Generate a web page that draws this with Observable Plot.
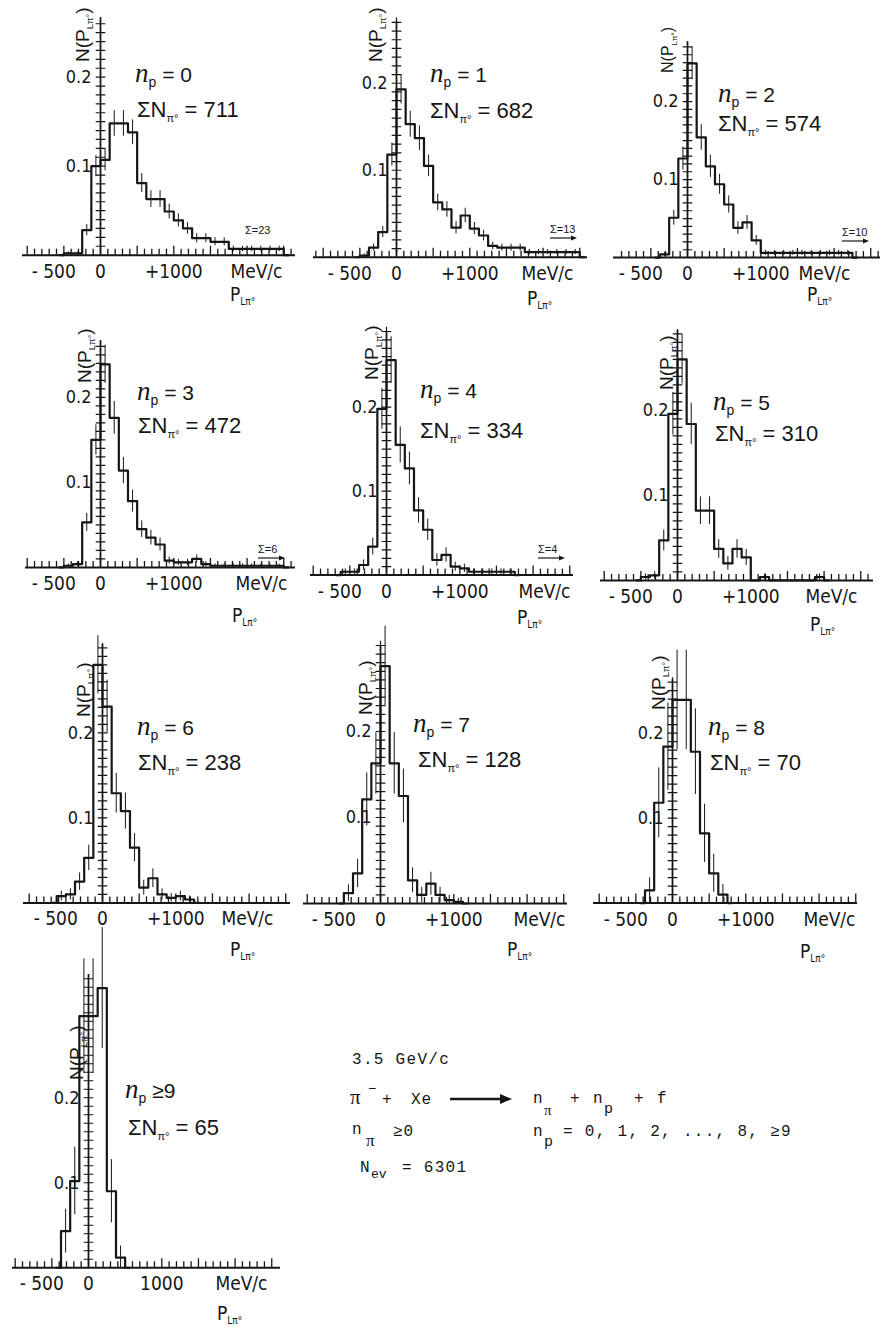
<!DOCTYPE html>
<html><head><meta charset="utf-8">
<script src="https://cdn.jsdelivr.net/npm/d3@7"></script>
<script src="https://cdn.jsdelivr.net/npm/@observablehq/plot@0.6"></script>
<style>
body{margin:0;background:#fff;}
#page{position:relative;width:881px;height:1335px;overflow:hidden;background:#fff;}
</style></head><body><div id="page"></div>
<script>
// ---------- data ----------
const npLabels = ["0","1","2","3","4","5","6","7","8","≥9"];
const sumN = [711, 682, 574, 472, 334, 310, 238, 128, 70, 65];
const overflowN = [23, 13, 10, 6, 4, null, null, null, null, null];
const binWidth = 125; // MeV/c
const binStart = [-500, -500, -375, -500, -625, -500, -625, -500, -375, -375];
const np0 = [0.002,0.002,0.028,0.100,0.107,0.148,0.148,0.138,0.081,0.063,0.063,0.049,0.039,0.030,0.019,0.019,0.015,0.015,0.007,0.007,0.007,0.007,0.007,0.007];
const np1 = [0.002,0.011,0.029,0.118,0.193,0.153,0.137,0.105,0.063,0.055,0.034,0.048,0.033,0.025,0.013,0.011,0.011,0.011,0.006,0.006,0.006,0.006,0.006,0.006];
const np2 = [0.004,0.051,0.127,0.249,0.154,0.117,0.094,0.068,0.038,0.045,0.022,0.006,0.006,0.006,0.006,0.006,0.006,0.006,0.006,0.006,0.006];
const np3 = [0.002,0.004,0.053,0.150,0.239,0.176,0.114,0.078,0.045,0.035,0.027,0.008,0.006,0.006,0.010,0.004,0.002,0.002,0.002,0.002,0.002,0.002,0.002,0.002];
const np4 = [0.004,0.004,0.012,0.034,0.198,0.256,0.155,0.127,0.077,0.054,0.018,0.024,0.010,0.008,0.004,0.004,0.004,0.004,0.004];
const np5 = [0.004,0.006,0.047,0.196,0.260,0.184,0.082,0.082,0.037,0.020,0.037,0.027,0,0.004,0,0,0,0,0,0.004];
const np6 = [0.008,0.010,0.025,0.053,0.280,0.231,0.129,0.108,0.065,0.018,0.029,0.010,0.006,0.008,0.004];
const np7 = [0.012,0.035,0.121,0.163,0.276,0.163,0.125,0.027,0.010,0.023,0.010,0.004,0.002];
const np8 = [0.015,0.118,0.184,0.239,0.239,0.178,0.082,0.035,0.010];
const np9 = [0.043,0.102,0.296,0.296,0.329,0.090,0.012];
const series = [np0, np1, np2, np3, np4, np5, np6, np7, np8, np9];
const xTickValues = [-500, 0, 1000];
const xTickText = ["- 500", "0", "+1000"];
const xTickTextLast = ["- 500", "0", "1000"];
const yLabelTicks = [0.1, 0.2];
const xMinorTicks = d3.range(-1100, 2800, 100);
const yMinorTicks = d3.range(1, 36).map(i => i / 100);

// ---------- layout (pixels) ----------
const layout = [
 {x0:22, x1:295, zero:100, base:255, k:89, top:0.267, unitRight:282},
 {x0:313, x1:587, zero:396, base:257, k:87, top:0.271, unitRight:573},
 {x0:613, x1:880, zero:687, base:257, k:78, top:0.277, unitRight:850},
 {x0:25, x1:295, zero:100, base:567, k:85, top:0.267, unitRight:287},
 {x0:310, x1:573, zero:386, base:575, k:84, top:0.29, unitRight:570},
 {x0:600, x1:873, zero:677, base:580, k:85, top:0.294, unitRight:857},
 {x0:23, x1:290, zero:102, base:902, k:85, top:0.304, unitRight:273},
 {x0:303, x1:567, zero:380, base:903, k:86, top:0.30, unitRight:565},
 {x0:593, x1:857, zero:672, base:903, k:85, top:0.263, unitRight:855},
 {x0:12, x1:280, zero:88, base:1267, k:85, top:0.345, unitRight:267}
];
const annot = [
 {ylab:[89,62,19], np:[135,82], sn:[137,117], pl:[230,301], ov:[245,234]},
 {ylab:[382,62,19], np:[430,82], sn:[430,118], pl:[527,305], ov:[550,233]},
 {ylab:[673,73,16], np:[718,102], sn:[718,131], pl:[807,301], ov:[842,236]},
 {ylab:[91,383,19], np:[137,400], sn:[138,433], pl:[232,622], ov:[258,553]},
 {ylab:[378,380,19], np:[420,398], sn:[420,438], pl:[517,624], ov:[538,553]},
 {ylab:[673,390,19], np:[713,410], sn:[715,441], pl:[810,631]},
 {ylab:[90,717,19], np:[137,735], sn:[138,770], pl:[230,956]},
 {ylab:[372,715,19], np:[413,732], sn:[418,767], pl:[507,956]},
 {ylab:[665,710,19], np:[708,735], sn:[710,770], pl:[800,958]},
 {ylab:[83,1080,19], np:[125,1098], sn:[128,1135], pl:[217,1320]}
];

const ink = "#161616";
const narrow = '"Liberation Sans Narrow","DejaVu Sans Condensed","Arial Narrow",sans-serif';
const sans = '"Liberation Sans","DejaVu Sans",sans-serif';
const serif = '"Liberation Serif","DejaVu Serif",serif';
const mono = '"Liberation Mono","DejaVu Sans Mono",monospace';
const page = document.getElementById("page");
const pxPerMeV = 0.0733;

series.forEach((vals, i) => {
  const g = layout[i];
  const W = g.x1 - g.x0;
  const mt = 45, mb = 60;
  const plotH = g.top * g.k * 10;
  const H = mt + plotH + mb;
  const bins = vals.map((v, j) => ({c: binStart[i] + (j + 0.5) * binWidth, v}));
  const pts = [{c: bins[0].c - binWidth, v: 0}, ...bins, {c: bins[bins.length - 1].c + binWidth, v: 0}];
  const err = bins.filter(d => d.v > 0).map(d => {
    const e = Math.sqrt(d.v / sumN[i]);
    return {c: d.c, lo: Math.max(0, d.v - e), hi: d.v + e};
  });
  const xDom = [(g.x0 - g.zero) / pxPerMeV, (g.x1 - g.zero) / pxPerMeV];
  const minor = xMinorTicks.filter(t => t > xDom[0] + 20 && t < xDom[1] - 20);
  const yT = yMinorTicks.filter(t => t <= g.top + 1e-9);
  const txt = i === 9 ? xTickTextLast : xTickText;
  const unit = g.k * 10;
  const chart = Plot.plot({
    width: W, height: H,
    marginLeft: 0, marginRight: 0, marginTop: mt, marginBottom: mb,
    x: {domain: xDom, axis: null},
    y: {domain: [0, g.top], axis: null},
    style: {overflow: "visible", background: "transparent", fontFamily: narrow, color: ink},
    marks: [
      Plot.ruleY([0], {stroke: ink, strokeWidth: 2}),
      Plot.ruleX(minor, {x: d => d, y1: 0, y2: d => (d % 500 === 0 ? 9 : 6) / unit, stroke: ink, strokeWidth: 1.3}),
      Plot.ruleX([0], {y1: 0, y2: g.top, stroke: ink, strokeWidth: 1.6}),
      Plot.dot(yT, {x: 0, y: d => d, symbol: "plus", r: 3.2, stroke: ink, strokeWidth: 1.2}),
      Plot.text(yLabelTicks, {x: 0, y: d => d, text: d => d.toFixed(1), textAnchor: "end", dx: -9, fontSize: 18, fontFamily: narrow, fill: ink}),
      Plot.ruleX(err, {x: "c", y1: "lo", y2: "hi", stroke: ink, strokeWidth: 1}),
      Plot.line(pts, {x: "c", y: "v", curve: "step", stroke: ink, strokeWidth: 2.2}),
      Plot.text(xTickValues.slice(0, 1), {x: d => d, y: 0, text: () => txt[0], textAnchor: "end", lineAnchor: "top", dx: 12, dy: 9, fontSize: 19, fontFamily: narrow, fill: ink}),
      Plot.text(xTickValues.slice(1), {x: d => d, y: 0, text: (d, j) => txt[j + 1], lineAnchor: "top", dy: 9, fontSize: 19, fontFamily: narrow, fill: ink}),
      Plot.text(["MeV/c"], {frameAnchor: "bottom-right", textAnchor: "end", lineAnchor: "top", dx: -(g.x1 - g.unitRight), dy: 9, fontSize: 19, fontFamily: narrow, fill: ink})
    ]
  });
  chart.style.position = "absolute";
  chart.style.left = g.x0 + "px";
  chart.style.top = (g.base - plotH - mt) + "px";
  chart.style.maxWidth = "none";
  page.appendChild(chart);
});

// ---------- text overlay ----------
const ov = d3.select(page).append("svg")
  .attr("width", 881).attr("height", 1335)
  .style("position", "absolute").style("left", "0px").style("top", "0px")
  .style("pointer-events", "none")
  .attr("fill", ink);

annot.forEach((a, i) => {
  const yl = ov.append("text")
    .attr("transform", `translate(${a.ylab[0]},${a.ylab[1]}) rotate(-90)`)
    .attr("font-family", sans).attr("font-size", a.ylab[2]);
  yl.append("tspan").text("N(P");
  yl.append("tspan").attr("font-size", a.ylab[2] * 0.5).attr("dy", 4).text("Lπ°");
  yl.append("tspan").attr("dy", -4).text(")");

  const t = ov.append("text").attr("x", a.np[0]).attr("y", a.np[1]).attr("font-family", sans).attr("font-size", 21);
  t.append("tspan").attr("font-family", serif).attr("font-style", "italic").attr("font-size", 27).text("n");
  t.append("tspan").attr("font-size", 14).attr("dy", 5).text("p");
  t.append("tspan").attr("dy", -5).text(npLabels[i].startsWith("≥") ? " " + npLabels[i] : " = " + npLabels[i]);

  const s = ov.append("text").attr("x", a.sn[0]).attr("y", a.sn[1]).attr("font-family", sans).attr("font-size", 22);
  s.append("tspan").text("ΣN");
  s.append("tspan").attr("font-size", 11).attr("dy", 5).text("π°");
  s.append("tspan").attr("dy", -5).text(" = " + sumN[i]);

  const p = ov.append("text").attr("x", a.pl[0]).attr("y", a.pl[1]).attr("font-family", narrow).attr("font-size", 19);
  p.append("tspan").text("P");
  p.append("tspan").attr("font-size", 10).attr("dy", 4).text("Lπ°");

  if (overflowN[i] != null && a.ov) {
    ov.append("text").attr("x", a.ov[0]).attr("y", a.ov[1]).attr("font-family", sans).attr("font-size", 11)
      .text("Σ=" + overflowN[i]);
    if (i > 0) {
      const ax = a.ov[0], ay = a.ov[1] + 5;
      ov.append("line").attr("x1", ax).attr("x2", ax + 24).attr("y1", ay).attr("y2", ay).attr("stroke", ink).attr("stroke-width", 1.2);
      ov.append("path").attr("d", `M${ax + 21},${ay - 2.5}L${ax + 27},${ay}L${ax + 21},${ay + 2.5}Z`).attr("fill", ink);
    }
  }
});

// ---------- reaction block ----------
function line(x, y, parts, size = 16) {
  const t = ov.append("text").attr("x", x).attr("y", y).attr("font-family", mono).attr("font-size", size);
  parts.forEach(p => {
    const s = t.append("tspan").text(p.t);
    if (p.x != null) s.attr("x", p.x);
    if (p.dy) s.attr("dy", p.dy);
    if (p.size) s.attr("font-size", p.size);
    if (p.fam) s.attr("font-family", p.fam);
    if (p.ls) s.attr("letter-spacing", p.ls);
  });
  return t;
}
line(352, 1064, [{t: "3.5 GeV/c", ls: 1.3}]);
line(350, 1104, [
  {t: "π", fam: serif, size: 21},
  {t: "−", x: 368, dy: -11, size: 14},
  {t: "+", x: 382, dy: 11},
  {t: "Xe", x: 411, ls: 1}
]);
ov.append("line").attr("x1", 450).attr("x2", 503).attr("y1", 1099).attr("y2", 1099).attr("stroke", ink).attr("stroke-width", 2.4);
ov.append("path").attr("d", "M500,1094L512,1099L500,1104Z").attr("fill", ink);
line(533, 1103, [
  {t: "n"},
  {t: "π", x: 544, dy: 12, size: 15, fam: serif},
  {t: "+", x: 570, dy: -12},
  {t: "n", x: 593},
  {t: "p", x: 604, dy: 10, size: 15},
  {t: "+", x: 634, dy: -10},
  {t: "f", x: 657}
]);
line(352, 1134, [
  {t: "n"},
  {t: "π", x: 366, dy: 12, size: 17, fam: serif},
  {t: "≥0", x: 393, dy: -10, ls: 1}
]);
line(533, 1136, [
  {t: "n"},
  {t: "p", x: 544, dy: 10, size: 15},
  {t: "= 0, 1, 2, ..., 8, ≥9", x: 563, dy: -10, ls: 1.3}
]);
line(360, 1172, [
  {t: "N"},
  {t: "ev", x: 371, dy: 6, size: 13},
  {t: "= 6301", x: 402, dy: -6, ls: 1.3}
]);
</script></body></html>
